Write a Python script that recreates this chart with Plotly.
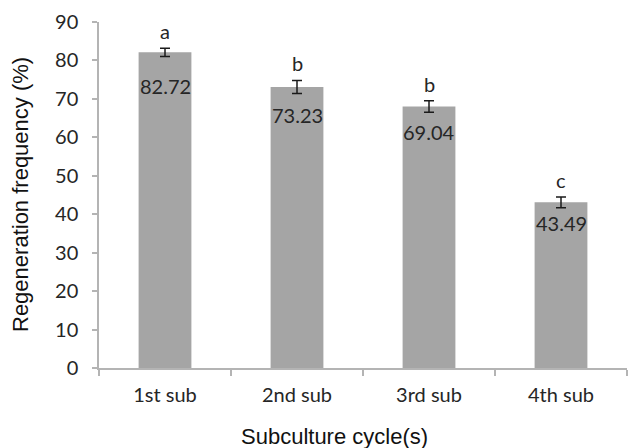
import plotly.graph_objects as go

# ---- data ----
categories = ["1st sub", "2nd sub", "3rd sub", "4th sub"]
bar_values = [82.1, 73.1, 68.0, 43.1]
error_values = [1.1, 1.7, 1.5, 1.4]
value_labels = ["82.72", "73.23", "69.04", "43.49"]
letters = ["a", "b", "b", "c"]
y_ticks = [0, 10, 20, 30, 40, 50, 60, 70, 80, 90]

# ---- style ----
BAR_COLOR = "#a5a5a5"
AXIS_COLOR = "#b4b4b4"
TEXT_COLOR = "#262626"
TICK_FONT = dict(family="Lato", size=20, color=TEXT_COLOR)
TITLE_FONT = dict(family="Liberation Sans, Arial", size=22, color="#111111")
label_shift = [-26, -20, -17, -13]  # px below bar top for value labels

fig = go.Figure()
fig.add_trace(go.Bar(
    x=categories,
    y=bar_values,
    marker=dict(color=BAR_COLOR, line=dict(width=0)),
    width=0.4,
    error_y=dict(type="data", array=error_values, visible=True,
                 color="#1a1a1a", thickness=1.5, width=5),
    showlegend=False,
    hoverinfo="skip",
))

annotations = []
for cat, v, e, lab, let, sh in zip(categories, bar_values, error_values,
                                    value_labels, letters, label_shift):
    annotations.append(dict(x=cat, y=v, xref="x", yref="y", text=lab,
                            showarrow=False, yanchor="top", yshift=sh + 6,
                            font=TICK_FONT))
    annotations.append(dict(x=cat, y=v + e, xref="x", yref="y", text=let,
                            showarrow=False, yanchor="bottom", yshift=3,
                            font=TICK_FONT))

annotations.append(dict(x=0.446, y=0, xref="paper", yref="paper",
                        text="Subculture cycle(s)", showarrow=False,
                        xanchor="center", yanchor="middle", yshift=-68,
                        borderpad=0, font=TITLE_FONT))
annotations.append(dict(x=0, y=0.5, xref="paper", yref="paper",
                        text="Regeneration frequency (%)", showarrow=False,
                        textangle=-90, xanchor="center", yanchor="middle",
                        xshift=-79, borderpad=0, font=TITLE_FONT))

fig.update_layout(
    width=628, height=448,
    margin=dict(l=99, r=1, t=22, b=80),
    paper_bgcolor="white", plot_bgcolor="white",
    bargap=0.6,
    annotations=annotations,
    xaxis=dict(
        type="category",
        showline=True, linecolor=AXIS_COLOR, linewidth=1.5,
        ticks="outside", tickson="boundaries", ticklen=6,
        tickcolor=AXIS_COLOR, tickwidth=1.5,
        tickfont=TICK_FONT, showgrid=False, zeroline=False,
        ticklabelstandoff=8,
    ),
    yaxis=dict(
        range=[0, 90], tickvals=y_ticks,
        showline=True, linecolor=AXIS_COLOR, linewidth=1.5,
        ticks="outside", ticklen=5, tickcolor=AXIS_COLOR, tickwidth=1.5,
        tickfont=TICK_FONT, showgrid=False, zeroline=False,
        ticklabelstandoff=10,
    ),
)

fig.write_html("out.html",
               config={"displayModeBar": False},
               post_script="document.body.style.margin='0';document.body.style.overflow='hidden';")
